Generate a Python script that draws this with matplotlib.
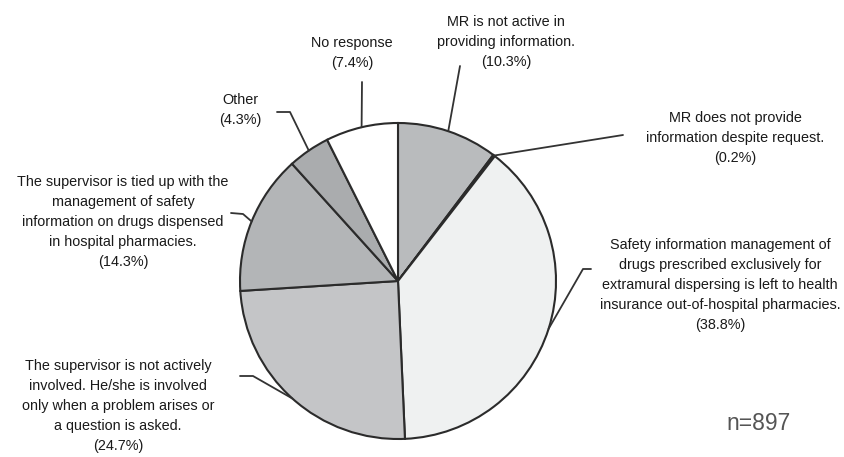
import numpy as np
import matplotlib
matplotlib.use("Agg")
import matplotlib.pyplot as plt

labels = [
    "MR is not active in\nproviding information.",
    "MR does not provide\ninformation despite request.",
    "Safety information management of\ndrugs prescribed exclusively for\nextramural dispersing is left to health\ninsurance out-of-hospital pharmacies.",
    "The supervisor is not actively\ninvolved. He/she is involved\nonly when a problem arises or\na question is asked.",
    "The supervisor is tied up with the\nmanagement of safety\ninformation on drugs dispensed\nin hospital pharmacies.",
    "Other",
    "No response",
]
shares = [10.3, 0.2, 38.8, 24.7, 14.3, 4.3, 7.4]
n_total = 897

colors = ["#b9bbbd", "#9a9c9e", "#eff1f1", "#c4c5c7", "#b3b5b7", "#aaacae", "#ffffff"]

# label text centre and leader elbow points, in pixels from the top-left corner
text_pos = [(506, 42), (735, 138), (720, 285), (118, 406), (123, 222), (240, 110), (352, 53)]
elbows = [
    [(460, 66)],
    [(623, 135)],
    [(583, 269), (591, 269)],
    [(253, 376), (240, 376)],
    [(243, 214), (231, 213)],
    [(290, 112), (277, 112)],
    [(362, 82)],
]

W, H = 844, 457
cx, cy, r = 398, 281, 158


def Y(y):
    return H - y


fig = plt.figure(figsize=(W / 100, H / 100), dpi=100)
ax = fig.add_axes([0, 0, 1, 1])

wedges, _ = ax.pie(shares, colors=colors, center=(cx, Y(cy)), radius=r,
                   startangle=90, counterclock=False,
                   wedgeprops=dict(edgecolor="#2b2b2b", linewidth=1.5))
ax.set_xlim(0, W)
ax.set_ylim(0, H)
ax.set_aspect("equal")
ax.axis("off")

font = ["Liberation Sans", "DejaVu Sans"]
for w, lab, val, (tx, ty), pts in zip(wedges, labels, shares, text_pos, elbows):
    mid = np.deg2rad((w.theta1 + w.theta2) / 2)
    ex = cx + r * np.cos(mid)
    ey = Y(cy) + r * np.sin(mid)
    xs = [ex] + [p[0] for p in pts]
    ys = [ey] + [Y(p[1]) for p in pts]
    ax.plot(xs, ys, color="#333333", lw=1.3, solid_capstyle="round")
    ax.text(tx, Y(ty), f"{lab}\n({val}%)", ha="center", va="center",
            family=font, fontsize=10.4, color="#1a1a1a", linespacing=1.55)

ax.text(759, Y(423), f"n={n_total}", ha="center", va="center",
        family=font, fontsize=16.5, color="#555555")

fig.savefig("out.png", dpi=100)
